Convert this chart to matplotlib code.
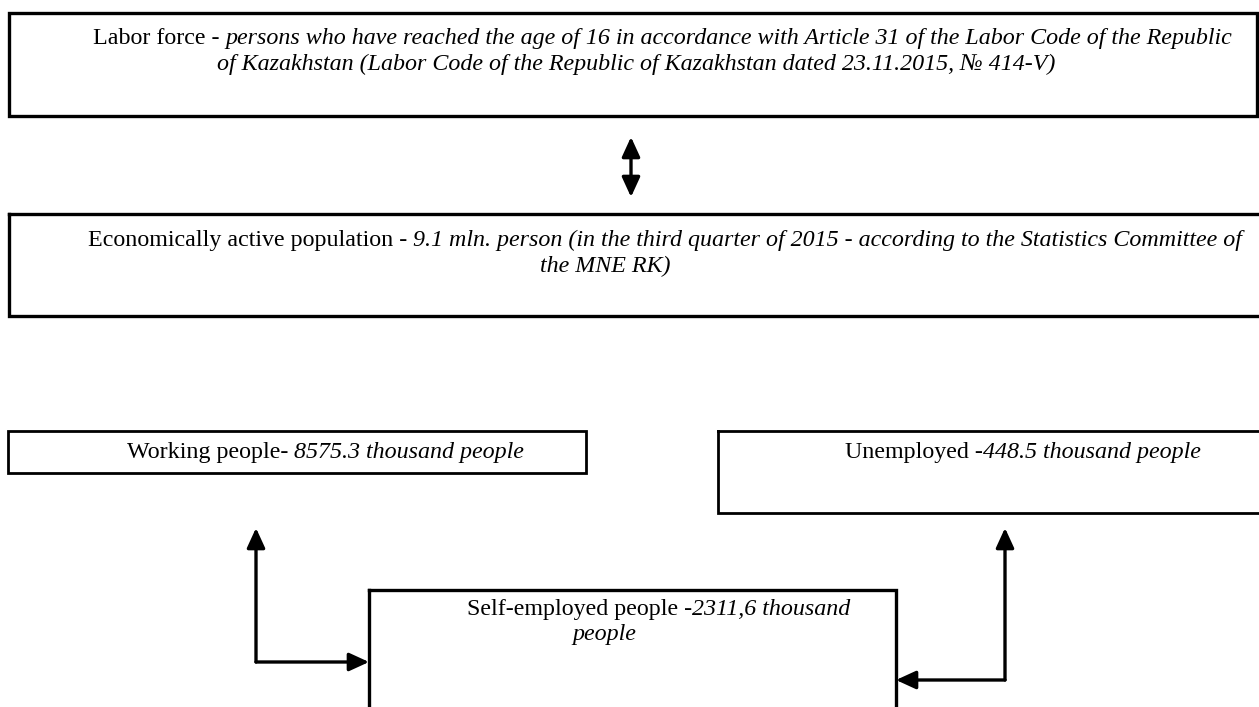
import matplotlib

matplotlib.use("Agg")
import matplotlib.pyplot as plt
from matplotlib.patches import Rectangle

W, H = 1259, 707

# box contents: (regular part, italic part) per line
labor_force = [
    ("Labor force - ", "persons who have reached the age of 16 in accordance with Article 31 of the Labor Code of the Republic"),
    ("", "of Kazakhstan (Labor Code of the Republic of Kazakhstan dated 23.11.2015, № 414-V)"),
]
active_pop = [
    ("Economically active population - ", "9.1 mln. person (in the third quarter of 2015 - according to the Statistics Committee of"),
    ("", "the MNE RK)"),
]
working = [("Working people- ", "8575.3 thousand people")]
unemployed = [("Unemployed -", "448.5 thousand people")]
self_employed = [
    ("Self-employed people -", "2311,6 thousand"),
    ("", "people"),
]

# layout (pixels): box x0, y0, x1, y1 and text baseline start (x, y) per line
boxes = [
    ((9, 13, 1257, 116), labor_force, [(93, 44), (217, 70)], 2.4),
    ((9, 214, 1265, 316), active_pop, [(88, 246), (540, 272)], 2.4),
    ((8, 431, 586, 473), working, [(127, 458)], 2.0),
    ((718, 431, 1265, 513), unemployed, [(845, 458)], 2.0),
    ((369, 590, 896, 720), self_employed, [(467, 615), (572, 640)], 2.4),
]

FS = 17.3
FONT = "Liberation Serif"

fig = plt.figure(figsize=(W / 100, H / 100), dpi=100)
ax = fig.add_axes([0, 0, 1, 1])
ax.set_xlim(0, W)
ax.set_ylim(H, 0)
ax.axis("off")
renderer = fig.canvas.get_renderer()


def draw_line(x, y, regular, italic):
    for part, style in ((regular, "normal"), (italic, "italic")):
        if not part:
            continue
        t = ax.text(x, y, part, fontsize=FS, family=FONT, style=style,
                    ha="left", va="baseline", color="black")
        x += t.get_window_extent(renderer).width


for (x0, y0, x1, y1), lines, starts, lw in boxes:
    ax.add_patch(Rectangle((x0, y0), x1 - x0, y1 - y0, fill=False,
                           edgecolor="black", linewidth=lw,
                           joinstyle="miter", capstyle="projecting"))
    for (reg, ita), (tx, ty) in zip(lines, starts):
        draw_line(tx, ty, reg, ita)

head = dict(arrowstyle="-|>,head_length=1.2,head_width=0.55",
            color="black", lw=2.4, shrinkA=0, shrinkB=0)
head2 = dict(arrowstyle="<|-|>,head_length=1.2,head_width=0.55",
             color="black", lw=2.4, shrinkA=0, shrinkB=0)

# double arrow between the two top boxes
ax.annotate("", xy=(631, 137), xytext=(631, 197), arrowprops=head2)

# left connector: self-employed -> working people
ax.annotate("", xy=(256, 528), xytext=(256, 662), arrowprops=head)
ax.annotate("", xy=(369, 662), xytext=(256, 662), arrowprops=head)

# right connector: self-employed -> unemployed
ax.annotate("", xy=(1005, 528), xytext=(1005, 680), arrowprops=head)
ax.annotate("", xy=(896, 680), xytext=(1005, 680), arrowprops=head)

fig.savefig("out.png", dpi=100, facecolor="white")
plt.close(fig)
